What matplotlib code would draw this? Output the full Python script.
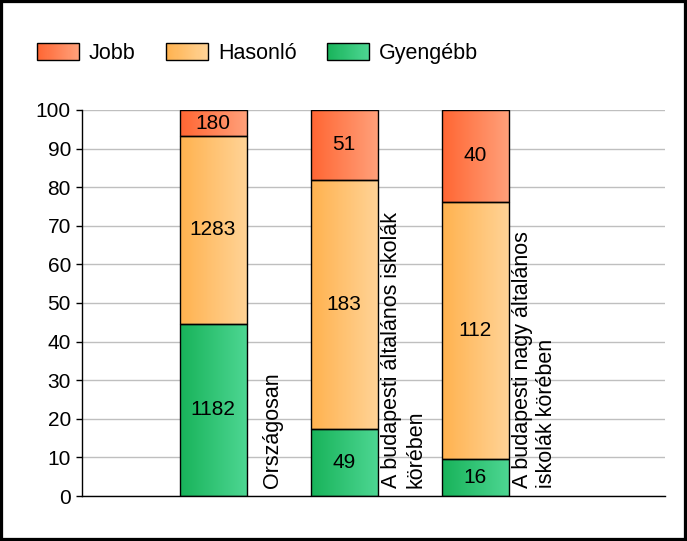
import numpy as np
import matplotlib
matplotlib.use("Agg")
import matplotlib.pyplot as plt
from matplotlib.patches import Rectangle
from matplotlib.legend_handler import HandlerBase
from matplotlib.colors import LinearSegmentedColormap, to_rgb

plt.rcParams['font.family'] = ['Liberation Sans', 'DejaVu Sans']

categories = ['Országosan',
              'A budapesti általános iskolák\nkörében',
              'A budapesti nagy általános\niskolák körében']
series_names = ['Gyengébb', 'Hasonló', 'Jobb']
gyengebb = [1182, 49, 16]
hasonlo = [1283, 183, 112]
jobb = [180, 51, 40]

# gradient colours (left, right)
grad_colors = {
    'Jobb': ('#ff6633', '#ffa07a'),
    'Hasonló': ('#ffb24f', '#ffd396'),
    'Gyengébb': ('#18b35a', '#4dd692'),
}


class GradientHandler(HandlerBase):
    def create_artists(self, legend, orig_handle, xdescent, ydescent,
                       width, height, fontsize, trans):
        c0, c1 = orig_handle
        c0, c1 = np.array(to_rgb(c0)), np.array(to_rgb(c1))
        n = 40
        arts = []
        for i in range(n):
            f = i / (n - 1)
            r = Rectangle((-xdescent + width * i / n, -ydescent), width / n * 1.05, height,
                          facecolor=c0 * (1 - f) + c1 * f, edgecolor='none', transform=trans)
            arts.append(r)
        arts.append(Rectangle((-xdescent, -ydescent), width, height, facecolor='none',
                              edgecolor='black', linewidth=1.0, transform=trans))
        return arts


fig = plt.figure(figsize=(6.87, 5.41), dpi=100)
ax = fig.add_axes([82 / 687, 45 / 541, 583 / 687, 386 / 541])

counts = np.array([gyengebb, hasonlo, jobb], dtype=float)
totals = counts.sum(axis=0)
pct = counts / totals * 100

x = np.arange(1, len(categories) + 1)
width = 67 / 131

ax.set_xlim(0, 583 / 131)
ax.set_ylim(0, 100)
ax.set_yticks(np.arange(0, 101, 10))
ax.yaxis.grid(True, color='#bfbfbf', linewidth=1.0)
ax.set_axisbelow(True)
ax.set_xticks([])
for s in ['top', 'right']:
    ax.spines[s].set_visible(False)
ax.spines['left'].set_linewidth(1.0)
ax.spines['bottom'].set_linewidth(1.0)
ax.tick_params(axis='y', length=4, width=1, pad=4, labelsize=15)

bottom = np.zeros(len(categories))
for name, vals, cnt in zip(series_names, pct, counts):
    c0, c1 = grad_colors[name]
    cmap = LinearSegmentedColormap.from_list(name, [c0, c1])
    bars = ax.bar(x, vals, width, bottom=bottom, facecolor='none',
                  edgecolor='black', linewidth=1.0, zorder=3)
    for b, v, c in zip(bars, vals, cnt):
        x0, y0 = b.get_x(), b.get_y()
        ax.imshow(np.linspace(0, 1, 100).reshape(1, -1), cmap=cmap, aspect='auto',
                  extent=(x0, x0 + b.get_width(), y0, y0 + b.get_height()),
                  zorder=2, interpolation='bilinear')
        ax.text(x0 + b.get_width() / 2, y0 + v / 2, f'{int(c)}', ha='center',
                va='center', fontsize=15, zorder=4)
    bottom += vals

ax.set_xlim(0, 583 / 131)
ax.set_ylim(0, 100)

for xi, lab in zip(x, categories):
    ax.annotate(lab, xy=(xi + width / 2, 0), xytext=(26, 8), textcoords='offset pixels',
                rotation=90, ha='center', va='bottom', fontsize=15.5, multialignment='left')

handles = [grad_colors['Jobb'], grad_colors['Hasonló'], grad_colors['Gyengébb']]
labels = ['Jobb', 'Hasonló', 'Gyengébb']
fig.legend(handles, labels, handler_map={tuple: GradientHandler()}, ncol=3,
           frameon=False, fontsize=15.5, loc='center left',
           bbox_to_anchor=(37 / 687, 1 - 53.5 / 541),
           handlelength=1.95, handleheight=0.88, handletextpad=0.47,
           columnspacing=1.4, borderaxespad=0, borderpad=0)

fig.patches.append(Rectangle((0, 0), 1, 1, transform=fig.transFigure, fill=False,
                             edgecolor='black', linewidth=4.5))

fig.savefig('out.png', dpi=100)
